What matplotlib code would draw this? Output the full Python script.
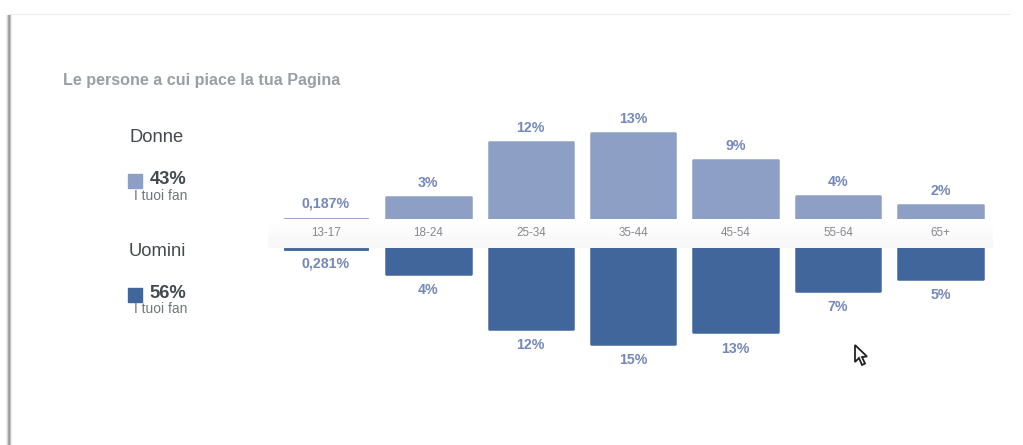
import numpy as np
import matplotlib
matplotlib.use('Agg')
import matplotlib.pyplot as plt
from matplotlib.patches import Polygon, Rectangle

plt.rcParams['font.family'] = ['Liberation Sans', 'DejaVu Sans']

W, H = 1023, 445

age_groups = ['13-17', '18-24', '25-34', '35-44', '45-54', '55-64', '65+']
women_values = [0.187, 3.3, 11.7, 13.1, 9.0, 3.5, 2.1]
men_values = [0.281, 3.9, 12.3, 14.6, 12.9, 6.5, 4.7]
women_labels = ['0,187%', '3%', '12%', '13%', '9%', '4%', '2%']
men_labels = ['0,281%', '4%', '12%', '15%', '13%', '7%', '5%']

LIGHT = '#8e9fc5'
DARK = '#41669c'
LABEL = '#7488ba'


def px_axes(fig, left, top, right, bottom, **kw):
    # axes placed with image pixel coordinates
    return fig.add_axes([left / W, 1 - bottom / H, (right - left) / W, (bottom - top) / H], **kw)


fig = plt.figure(figsize=(W / 100, H / 100), dpi=100, facecolor='white')

# overlay in pixel coordinates, for the card, legend and band
bg = px_axes(fig, 0, 0, W, H)
bg.set_xlim(0, W)
bg.set_ylim(H, 0)
bg.axis('off')

# card edges: shadow on the left, thin line on top
for i, c in enumerate(['#f0f0f0', '#d4d4d4', '#a8a8a8', '#9a9a9a', '#c4c4c4', '#ececec']):
    bg.add_patch(Rectangle((6 + i, 15), 1, H - 15, fc=c, ec='none'))
bg.add_patch(Rectangle((9, 13.5), 1001, 1.5, fc='#ececec', ec='none'))

# band behind the age labels, fading to light grey
grad = np.linspace(1, 0.965, 30).reshape(-1, 1)
bg.imshow(grad, extent=(268, 993, 248, 219), cmap='gray', vmin=0, vmax=1, aspect='auto', zorder=1)
bg.set_xlim(0, W)
bg.set_ylim(H, 0)

bg.text(63, 80, 'Le persone a cui piace la tua Pagina', fontsize=11.65, fontweight='bold',
        color='#9a9ea6', va='center', ha='left')

bg.text(157, 138, 'Donne', fontsize=13.2, color='#444950', va='center', ha='center')
bg.add_patch(Rectangle((128, 174), 14, 14, fc=LIGHT, ec=LIGHT, lw=1, joinstyle='round'))
bg.text(168, 179, '43%', fontsize=13.2, fontweight='bold', color='#444950', va='center', ha='center')
bg.text(160.5, 196, 'I tuoi fan', fontsize=9.9, color='#70757d', va='center', ha='center')

bg.text(157, 252, 'Uomini', fontsize=13.2, color='#444950', va='center', ha='center')
bg.add_patch(Rectangle((128, 288), 14, 14, fc=DARK, ec=DARK, lw=1, joinstyle='round'))
bg.text(168, 293, '56%', fontsize=13.2, fontweight='bold', color='#444950', va='center', ha='center')
bg.text(160.5, 309, 'I tuoi fan', fontsize=9.9, color='#70757d', va='center', ha='center')

# mouse pointer
bg.add_patch(Polygon([(855, 345), (855, 362), (859, 358), (862, 365), (865, 363.5),
                      (862, 357), (867, 356.5)], closed=True, fc='white', ec='#222222', lw=1.3, zorder=5))

# bars share one scale: 6.55 px per percentage point
PX_PER = 6.55
x = np.arange(len(age_groups))
SLOT = 102.4
left, right = 326 - SLOT / 2, 326 + 6 * SLOT + SLOT / 2

# tiny bars get a thin edge, otherwise the edge makes them look far too tall
top = px_axes(fig, left, 100, right, 219)
top.bar(x, women_values, width=0.825, color=LIGHT, edgecolor=LIGHT,
        linewidth=[0.6 if v < 1 else 1.8 for v in women_values], joinstyle='round')
top.set_ylim(0, 119 / PX_PER)
for i, v in enumerate(women_values):
    top.annotate(women_labels[i], (x[i], v), xytext=(0, 5.3), textcoords='offset points', ha='center',
                 va='bottom', fontsize=10.2, fontweight='bold', color=LABEL)

bottom = px_axes(fig, left, 248, right, 380)
bottom.bar(x, men_values, width=0.825, color=DARK, edgecolor=DARK,
           linewidth=[0.6 if v < 1 else 1.8 for v in men_values], joinstyle='round')
bottom.set_ylim(132 / PX_PER, 0)
for i, v in enumerate(men_values):
    bottom.annotate(men_labels[i], (x[i], v), xytext=(0, -5 if v < 1 else -6.7), textcoords='offset points',
                    ha='center', va='top', fontsize=10.2, fontweight='bold', color=LABEL)

for ax in (top, bottom):
    ax.set_xlim(-0.5, 6.5)
    ax.patch.set_alpha(0)
    ax.axis('off')

# age labels sit in the band between the two bar groups
for i, name in enumerate(age_groups):
    top.annotate(name, (x[i], 0), xytext=(0, -14.5 * 0.72), textcoords='offset points', ha='center',
                 va='center', fontsize=8.4, color='#85898f', annotation_clip=False)

fig.savefig('out.png', dpi=100)
